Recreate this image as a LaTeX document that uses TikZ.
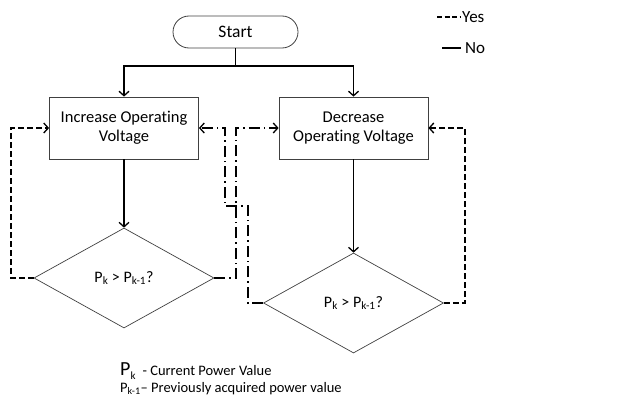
\documentclass[tikz,border=0pt]{standalone}
\usepackage{fontspec}
\setmainfont{Carlito}[Ligatures=NoCommon]
\usetikzlibrary{shapes.geometric,shapes.misc,arrows.meta}
\begin{document}
\begin{tikzpicture}[x=1pt,y=-1pt,
  every node/.style={inner sep=0pt},
  procbox/.style={draw=black!75,line width=0.8pt,rectangle,minimum width=149pt,minimum height=62pt,align=center,font=\fontsize{16.5}{19}\selectfont},
  termbox/.style={draw=black!75,line width=0.8pt,rounded rectangle,minimum width=125pt,minimum height=32pt,font=\fontsize{17.5}{20}\selectfont},
  decbox/.style={draw=black!75,line width=0.7pt,diamond,aspect=1.8,minimum width=180pt,minimum height=100pt,font=\fontsize{16}{18}\selectfont},
  conn/.style={line width=1.3pt,line join=miter},
  arr/.style={-{Straight Barb[length=4.5pt,width=10pt,line width=1.3pt]}},
  yesline/.style={conn,dash pattern=on 6pt off 3pt},
  altline/.style={conn,dash pattern=on 11pt off 4pt on 1.5pt off 4pt},
  lgd/.style={font=\fontsize{17}{20}\selectfont,anchor=west}
]
\useasboundingbox (0,0) rectangle (628,396);

\node[termbox] (start) at (235.5,32) {Start};
\node[procbox] (inc) at (124,128) {Increase Operating\\Voltage};
\node[procbox] (dec) at (353.5,128) {Decrease\\Operating Voltage};
\node[decbox] (d1) at (124,278) {P\textsubscript{k} > P\textsubscript{k-1}?};
\node[decbox] (d2) at (353.5,303) {P\textsubscript{k} > P\textsubscript{k-1}?};

% start split
\coordinate (split) at (235.5,66);
\draw[conn] (start.south) -- (split);
\draw[conn,arr] (split) -| (inc.north);
\draw[conn,arr] (split) -| (dec.north);

% box to diamond
\draw[conn,arr] (inc.south) -- (d1.north);
\draw[conn,arr] (dec.south) -- (d2.north);

% yes loops
\coordinate (yl1) at (11,278);
\coordinate (yl2) at (11,128);
\draw[yesline,arr] (d1.west) -- (yl1) -- (yl2) -- (inc.west);
\coordinate (yr1) at (465,303);
\coordinate (yr2) at (465,128);
\draw[yesline,arr] (d2.east) -- (yr1) -- (yr2) -- (dec.east);

% cross connectors
\coordinate (c1) at (236,278);
\coordinate (c2) at (236,128);
\draw[altline,arr] (d1.east) -- (c1) -- (c2) -- (dec.west);
\coordinate (e1) at (248,303);
\coordinate (e2) at (248,206);
\coordinate (e3) at (225,206);
\coordinate (e4) at (225,128);
\draw[altline,arr] (d2.west) -- (e1) -- (e2) -- (e3) -- (e4) -- (inc.east);

% legend
\coordinate (ly1) at (437,17);
\coordinate (ly2) at (461,17);
\draw[conn,dash pattern=on 5pt off 2.5pt] (ly1) -- (ly2);
\node[lgd] (yes) at (462,17) {Yes};
\coordinate (ln1) at (442,48);
\coordinate (ln2) at (461,48);
\draw[line width=1.8pt] (ln1) -- (ln2);
\node[lgd] (no) at (465,48) {No};

\node[anchor=base west] (l1) at (120,375) {{\fontsize{20}{22}\selectfont P}\textsubscript{\fontsize{11}{12}\selectfont k}\fontsize{14.5}{16}\selectfont\ \ - Current Power Value};
\node[anchor=base west] (l2) at (120,392) {\fontsize{14.5}{16}\selectfont P\textsubscript{k-1}– Previously acquired power value};
\end{tikzpicture}
\end{document}
